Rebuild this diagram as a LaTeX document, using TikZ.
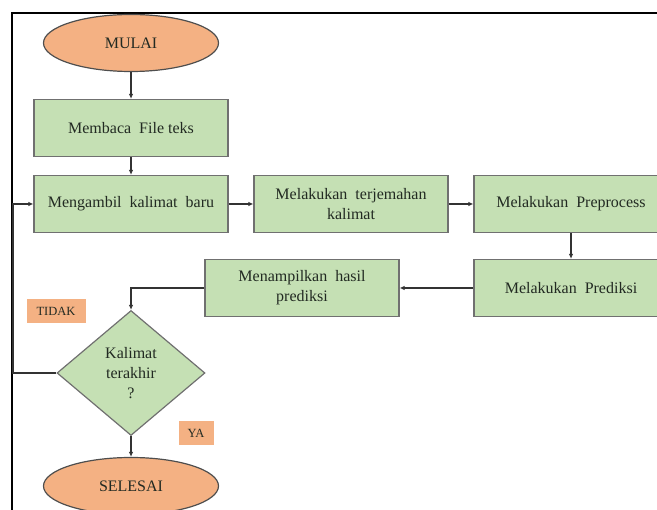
\documentclass[tikz,border=0pt]{standalone}
\usepackage{fontspec}
\setmainfont{Liberation Serif}
\usetikzlibrary{shapes.geometric,arrows.meta}
\definecolor{boxgreen}{RGB}{197,224,180}
\definecolor{ovalorange}{RGB}{244,177,131}
\definecolor{edgegray}{RGB}{112,112,112}
\definecolor{inkgray}{RGB}{34,42,34}
\tikzset{x=1pt, y=-1pt,
 prosesbox/.style={draw=edgegray, fill=boxgreen, line width=1.2pt,
   minimum width=194pt, minimum height=57pt, inner sep=2pt, align=center,
   text=inkgray, font=\fontsize{16}{20}\selectfont},
 terminal/.style={ellipse, draw=edgegray!70!black, fill=ovalorange, line width=1.2pt,
   minimum width=175pt, minimum height=57pt, inner sep=0pt,
   text=inkgray, font=\fontsize{16}{20}\selectfont},
 keputusan/.style={diamond, draw=edgegray, fill=boxgreen, line width=1.2pt,
   minimum width=148pt, minimum height=125pt, inner sep=0pt, align=center,
   text=inkgray, font=\fontsize{16}{20}\selectfont},
 tanda/.style={fill=ovalorange, draw=none, inner sep=0pt, minimum height=24pt,
   text=inkgray, font=\fontsize{12.5}{14}\selectfont},
 flow/.style={draw=black!80, line width=1.3pt, -{Latex[length=5pt,width=4.5pt]}},
 }

\begin{document}
\begin{tikzpicture}
        \useasboundingbox (0,0) rectangle (657,510);
        \draw[line width=1.8pt] (12,13) rectangle (760,600);
        % start and first steps
        \node[terminal] (mulai) at (131,43) {MULAI};
        \node[prosesbox] (baca) at (131,128) {Membaca\ \ File teks};
        \node[prosesbox] (ambil) at (131,204) {Mengambil\ \ kalimat\ \ baru};
        \node[prosesbox] (terjemah) at (351,204) {Melakukan\ \ terjemahan\\kalimat};
        \node[prosesbox] (preproses) at (571,204) {Melakukan\ \ Preprocess};
        \node[prosesbox] (prediksi) at (571,288) {Melakukan\ \ Prediksi};
        \node[prosesbox] (tampil) at (302,288) {Menampilkan\ \ hasil\\prediksi};
        % check and end
        \node[keputusan] (cek) at (131,373) {Kalimat\\terakhir\\?};
        \node[terminal] (selesai) at (131,486) {SELESAI};
        \node[tanda, minimum width=59pt] (tidak) at (56,311) {TIDAK};
        \node[tanda, minimum width=35pt] (ya) at (196,433) {YA};
        \coordinate (kiri) at (13,373);
        \draw[flow] (mulai) -- (baca);
        \draw[flow] (baca) -- (ambil);
        \draw[flow] (ambil) -- (terjemah);
        \draw[flow] (terjemah) -- (preproses);
        \draw[flow] (preproses) -- (prediksi);
        \draw[flow] (prediksi) -- (tampil);
        \draw[flow] (tampil.west) -| (cek.north);
        \draw[flow] (cek) -- (selesai);
        \draw[flow] (cek.west) -- (kiri) |- (ambil.west);
    \end{tikzpicture}
\end{document}
